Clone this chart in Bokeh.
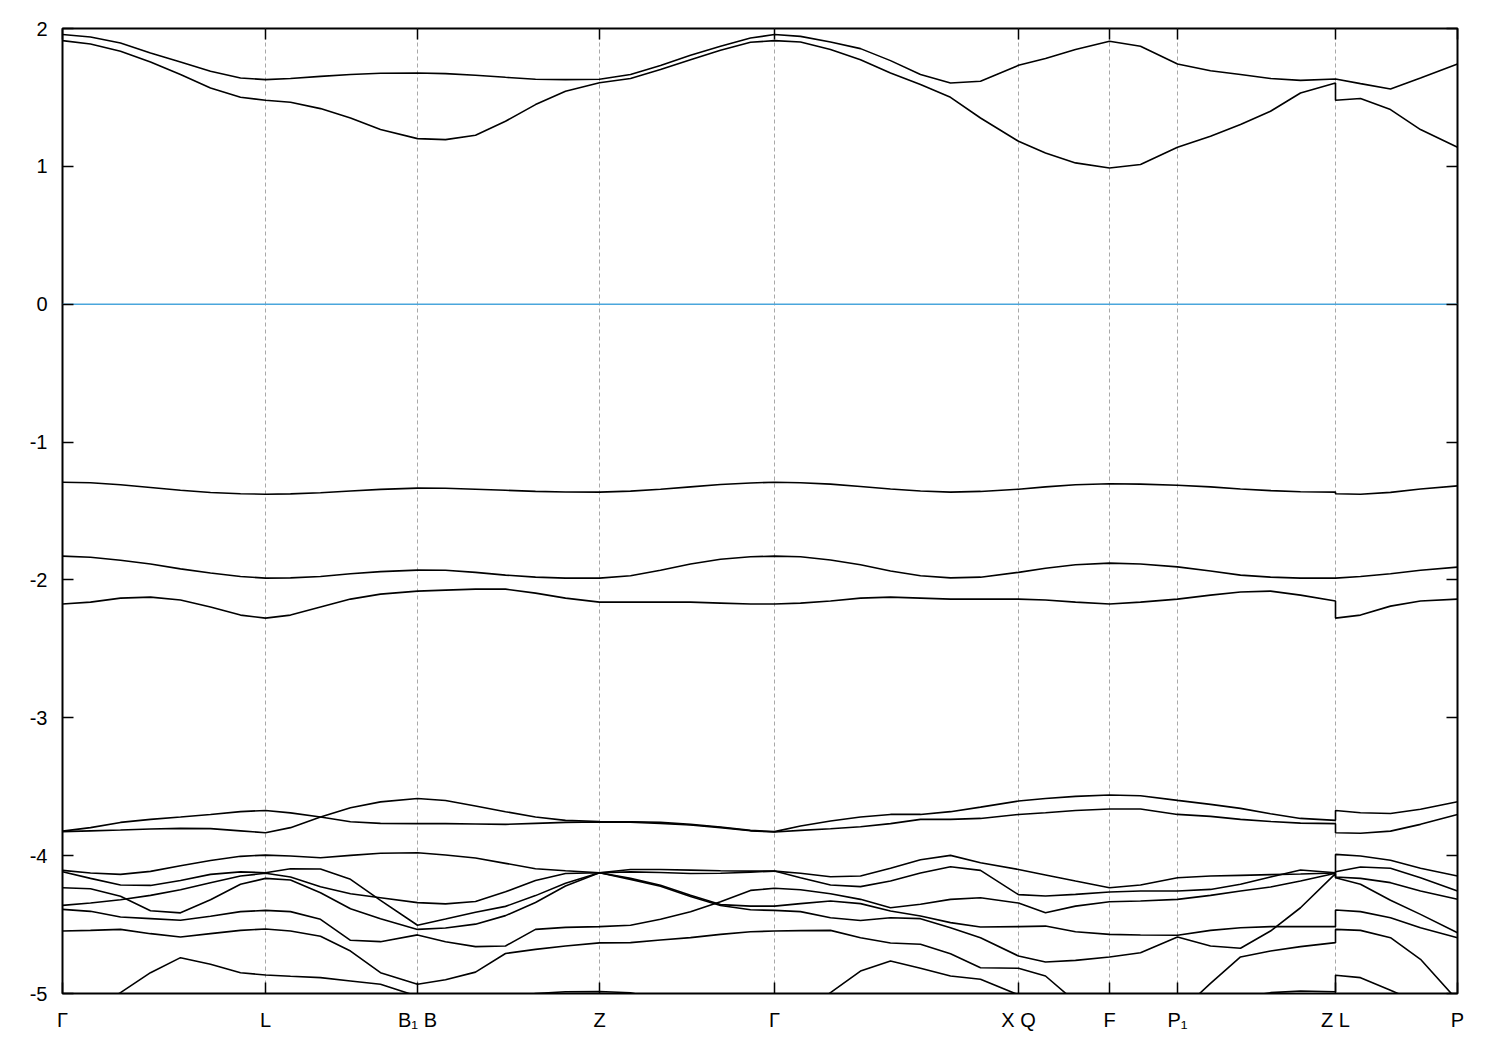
from bokeh.plotting import figure
from bokeh.models import FixedTicker, LinearAxis, Span, Range1d
from bokeh.embed import file_html
from bokeh.resources import INLINE

# k-path distance (arbitrary units); duplicated point = discontinuity Z|L
K = [0.00, 0.28, 0.58, 0.88, 1.18, 1.48, 1.78, 2.03, 2.28, 2.58, 2.88, 3.18,
     3.55, 3.83, 4.13, 4.43, 4.73, 5.03, 5.37, 5.68, 5.98, 6.28, 6.58, 6.88,
     7.12, 7.38, 7.68, 7.98, 8.28, 8.58, 8.88, 9.18, 9.56, 9.83, 10.13, 10.47,
     10.78, 11.15, 11.48, 11.78, 12.08, 12.38, 12.73, 12.73, 12.98, 13.28, 13.58, 13.95]

SYM_POS = [0.00, 2.03, 3.55, 5.37, 7.12, 9.56, 10.47, 11.15, 12.73, 13.95]
SYM_LABELS = ["Γ", "L", "B₁ B", "Z", "Γ", "X Q", "F", "P₁", "Z L", "P"]
Y_TICKS = [-5, -4, -3, -2, -1, 0, 1, 2]
Y_LABELS = ["-5", "-4", "-3", "-2", "-1", "0", "1", "2"]

BAND_A = [1.956, 1.938, 1.895, 1.823, 1.757, 1.690, 1.641, 1.629, 1.637, 1.653, 1.666, 1.675,
          1.677, 1.673, 1.661, 1.646, 1.632, 1.629, 1.632, 1.666, 1.731, 1.806, 1.871, 1.931,
          1.956, 1.943, 1.902, 1.854, 1.767, 1.666, 1.605, 1.617, 1.733, 1.782, 1.847, 1.907,
          1.871, 1.743, 1.694, 1.666, 1.637, 1.624, 1.634, 1.634, 1.600, 1.561, 1.641, 1.743]
BAND_B = [1.912, 1.888, 1.835, 1.757, 1.666, 1.569, 1.501, 1.479, 1.465, 1.419, 1.351, 1.267,
          1.201, 1.194, 1.226, 1.327, 1.448, 1.545, 1.607, 1.637, 1.702, 1.774, 1.842, 1.900,
          1.912, 1.902, 1.847, 1.774, 1.677, 1.593, 1.501, 1.351, 1.182, 1.097, 1.025, 0.988,
          1.013, 1.139, 1.218, 1.303, 1.400, 1.532, 1.605, 1.479, 1.492, 1.412, 1.267, 1.139]
BAND_C = [-1.291, -1.295, -1.310, -1.330, -1.350, -1.366, -1.375, -1.378, -1.376, -1.368, -1.355, -1.343,
          -1.334, -1.335, -1.342, -1.350, -1.358, -1.362, -1.363, -1.356, -1.342, -1.325, -1.308, -1.297,
          -1.291, -1.295, -1.305, -1.322, -1.340, -1.355, -1.363, -1.358, -1.342, -1.325, -1.310, -1.302,
          -1.305, -1.313, -1.325, -1.340, -1.352, -1.360, -1.363, -1.375, -1.378, -1.365, -1.340, -1.318]
BAND_D = [-1.827, -1.835, -1.857, -1.885, -1.920, -1.950, -1.975, -1.987, -1.985, -1.975, -1.955, -1.940,
          -1.929, -1.930, -1.945, -1.965, -1.980, -1.987, -1.987, -1.970, -1.930, -1.885, -1.850, -1.832,
          -1.827, -1.832, -1.855, -1.890, -1.935, -1.970, -1.985, -1.980, -1.945, -1.915, -1.890, -1.878,
          -1.885, -1.905, -1.935, -1.965, -1.980, -1.987, -1.987, -1.987, -1.975, -1.955, -1.930, -1.907]
BAND_E = [-2.175, -2.161, -2.132, -2.125, -2.146, -2.197, -2.255, -2.277, -2.255, -2.197, -2.139, -2.103,
          -2.081, -2.074, -2.067, -2.067, -2.096, -2.132, -2.161, -2.161, -2.161, -2.161, -2.168, -2.175,
          -2.175, -2.168, -2.153, -2.132, -2.125, -2.132, -2.139, -2.139, -2.139, -2.146, -2.161, -2.175,
          -2.161, -2.139, -2.110, -2.088, -2.081, -2.110, -2.153, -2.277, -2.255, -2.190, -2.153, -2.139]
BAND_PA = [-3.822, -3.797, -3.759, -3.737, -3.720, -3.701, -3.681, -3.672, -3.690, -3.720, -3.754, -3.766,
           -3.768, -3.768, -3.770, -3.773, -3.766, -3.759, -3.756, -3.757, -3.766, -3.778, -3.797, -3.820,
           -3.829, -3.817, -3.805, -3.790, -3.768, -3.737, -3.737, -3.730, -3.701, -3.689, -3.672, -3.662,
           -3.662, -3.701, -3.715, -3.737, -3.752, -3.764, -3.768, -3.834, -3.838, -3.822, -3.773, -3.701]
BAND_PB = [-3.826, -3.820, -3.814, -3.807, -3.802, -3.804, -3.820, -3.834, -3.797, -3.720, -3.652, -3.610,
           -3.585, -3.600, -3.640, -3.681, -3.720, -3.744, -3.752, -3.754, -3.759, -3.773, -3.792, -3.817,
           -3.826, -3.785, -3.749, -3.720, -3.701, -3.701, -3.681, -3.648, -3.604, -3.585, -3.570, -3.560,
           -3.565, -3.599, -3.628, -3.657, -3.696, -3.730, -3.744, -3.672, -3.689, -3.694, -3.664, -3.609]
BAND_V1 = [-4.107, -4.126, -4.136, -4.114, -4.073, -4.035, -4.005, -3.996, -4.003, -4.015, -3.998, -3.983,
           -3.979, -3.995, -4.017, -4.056, -4.095, -4.110, -4.124, -4.100, -4.100, -4.105, -4.110, -4.112,
           -4.112, -4.128, -4.153, -4.148, -4.092, -4.030, -3.998, -4.051, -4.100, -4.140, -4.184, -4.233,
           -4.213, -4.160, -4.148, -4.143, -4.138, -4.133, -4.126, -3.991, -4.003, -4.034, -4.092, -4.148]
BAND_V2 = [-4.117, -4.165, -4.213, -4.216, -4.180, -4.136, -4.118, -4.124, -4.095, -4.097, -4.172, -4.324,
           -4.505, -4.460, -4.410, -4.368, -4.290, -4.200, -4.124, -4.118, -4.122, -4.130, -4.128, -4.120,
           -4.112, -4.160, -4.213, -4.225, -4.184, -4.126, -4.080, -4.107, -4.283, -4.293, -4.281, -4.264,
           -4.257, -4.257, -4.245, -4.208, -4.155, -4.104, -4.124, -4.117, -4.082, -4.092, -4.160, -4.257]
BAND_V3 = [-4.361, -4.344, -4.320, -4.288, -4.247, -4.196, -4.148, -4.128, -4.155, -4.225, -4.276, -4.305,
           -4.341, -4.350, -4.333, -4.262, -4.180, -4.130, -4.124, -4.165, -4.215, -4.288, -4.355, -4.366,
           -4.366, -4.348, -4.329, -4.348, -4.402, -4.438, -4.486, -4.518, -4.515, -4.511, -4.552, -4.571,
           -4.576, -4.578, -4.542, -4.523, -4.515, -4.515, -4.515, -4.394, -4.406, -4.450, -4.523, -4.595]
BAND_V4 = [-4.233, -4.240, -4.295, -4.400, -4.415, -4.320, -4.208, -4.165, -4.177, -4.269, -4.385, -4.457,
           -4.535, -4.525, -4.497, -4.435, -4.340, -4.220, -4.124, -4.172, -4.222, -4.296, -4.362, -4.393,
           -4.397, -4.406, -4.450, -4.470, -4.450, -4.457, -4.523, -4.595, -4.728, -4.772, -4.760, -4.735,
           -4.704, -4.590, -4.655, -4.672, -4.547, -4.378, -4.130, -4.160, -4.208, -4.324, -4.426, -4.559]
BAND_V5 = [-4.390, -4.404, -4.445, -4.457, -4.469, -4.440, -4.406, -4.397, -4.406, -4.462, -4.614, -4.624,
           -4.575, -4.625, -4.660, -4.655, -4.535, -4.520, -4.515, -4.505, -4.462, -4.407, -4.334, -4.252,
           -4.237, -4.247, -4.276, -4.317, -4.378, -4.353, -4.317, -4.305, -4.344, -4.414, -4.366, -4.334,
           -4.329, -4.317, -4.288, -4.257, -4.228, -4.184, -4.128, -4.155, -4.165, -4.196, -4.257, -4.317]
BAND_V6 = [-4.547, -4.542, -4.535, -4.566, -4.590, -4.566, -4.542, -4.532, -4.547, -4.585, -4.692, -4.849,
           -4.933, -4.900, -4.845, -4.710, -4.680, -4.655, -4.633, -4.631, -4.612, -4.595, -4.571, -4.552,
           -4.547, -4.544, -4.542, -4.595, -4.634, -4.643, -4.711, -4.813, -4.817, -4.873, -5.060, -5.150,
           -5.200, -5.150, -4.926, -4.735, -4.692, -4.660, -4.631, -4.535, -4.542, -4.595, -4.752, -5.050]
BAND_V7 = [-5.240, -5.120, -4.994, -4.849, -4.740, -4.788, -4.849, -4.866, -4.875, -4.885, -4.909, -4.933,
           -5.020, -5.060, -5.070, -5.040, -5.000, -4.987, -4.985, -4.995, -5.040, -5.100, -5.150, -5.200,
           -5.250, -5.150, -4.994, -4.837, -4.764, -4.817, -4.873, -4.897, -5.010, -5.080, -5.150, -5.200,
           -5.200, -5.150, -5.100, -5.030, -4.994, -4.982, -4.987, -4.868, -4.885, -4.977, -5.070, -5.150]

BANDS = [BAND_A, BAND_B, BAND_C, BAND_D, BAND_E, BAND_PA, BAND_PB,
         BAND_V1, BAND_V2, BAND_V3, BAND_V4, BAND_V5, BAND_V6, BAND_V7]

FONT = "Liberation Sans"

p = figure(width=1488, height=1038,
           x_range=Range1d(K[0], K[-1]), y_range=Range1d(-5, 2),
           output_backend="svg", toolbar_location=None,
           min_border_left=62, min_border_right=31,
           min_border_top=28, min_border_bottom=45)
p.background_fill_color = "white"
p.border_fill_color = "white"
p.outline_line_color = "black"
p.outline_line_width = 2
p.xgrid.visible = False
p.ygrid.visible = False

# high-symmetry separators
for pos in SYM_POS[1:-1]:
    p.add_layout(Span(location=pos, dimension="height", line_color="#a8a8a8",
                      line_dash="4 3", line_width=1, level="underlay"))

# Fermi level
p.line([K[0], K[-1]], [0, 0], line_color="#4aa6dc", line_width=1.6)

for band in BANDS:
    p.line(K, band, line_color="black", line_width=1.6)

def style_axis(ax, show_labels=True):
    ax.axis_line_color = None
    ax.major_tick_in = 11
    ax.major_tick_out = 0
    ax.major_tick_line_color = "black"
    ax.major_tick_line_width = 1.5
    ax.minor_tick_line_color = None
    ax.major_label_text_font = FONT
    ax.major_label_text_color = "black"
    if show_labels:
        ax.major_label_text_font_size = "20px"
        ax.major_label_standoff = 15
    else:
        ax.major_label_text_font_size = "0px"
        ax.major_label_standoff = 0

xax = p.xaxis[0]
xax.ticker = FixedTicker(ticks=SYM_POS)
xax.major_label_overrides = dict(zip(SYM_POS, SYM_LABELS))
style_axis(xax)

yax = p.yaxis[0]
yax.ticker = FixedTicker(ticks=Y_TICKS)
yax.major_label_overrides = dict(zip(Y_TICKS, Y_LABELS))
style_axis(yax)

top = LinearAxis(ticker=FixedTicker(ticks=SYM_POS))
style_axis(top, show_labels=False)
top.major_label_overrides = {pos: "" for pos in SYM_POS}
p.add_layout(top, "above")

right = LinearAxis(ticker=FixedTicker(ticks=Y_TICKS))
style_axis(right, show_labels=False)
right.major_label_overrides = {t: "" for t in Y_TICKS}
p.add_layout(right, "right")

open("out.html", "w").write(file_html(p, INLINE))
